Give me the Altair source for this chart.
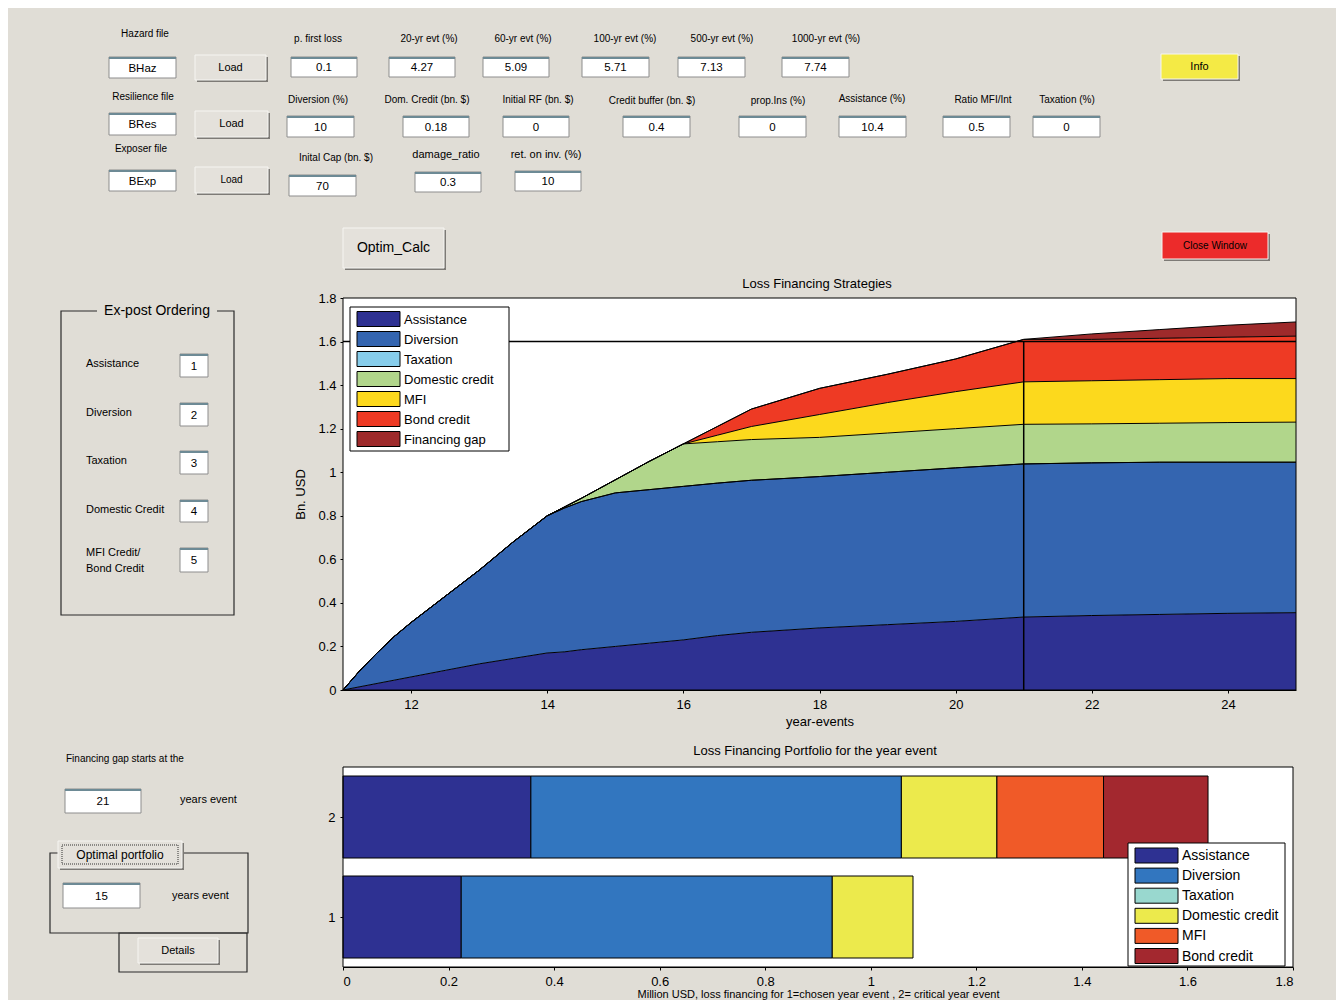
import altair as alt
import pandas as pd

# ---------------- data: Loss Financing Strategies (stacked areas, bn USD) ----------------
years = [11, 11.25, 11.5, 11.75, 12, 12.5, 13, 13.5, 14, 14.25, 14.5, 15, 15.5, 16,
         16.5, 17, 18, 19, 20, 21, 22, 23, 24, 25]
assistance = [0, 0.015, 0.03, 0.045, 0.06, 0.09, 0.12, 0.145, 0.17, 0.175, 0.185, 0.2,
              0.215, 0.23, 0.25, 0.265, 0.285, 0.3, 0.315, 0.335, 0.342, 0.347, 0.352, 0.355]
diversion = [0, 0.075, 0.14, 0.2, 0.25, 0.34, 0.43, 0.535, 0.63, 0.66, 0.68, 0.705,
             0.705, 0.705, 0.70, 0.698, 0.695, 0.70, 0.705, 0.703, 0.701, 0.699, 0.694, 0.691]
taxation = [0, 0, 0, 0, 0, 0, 0, 0, 0, 0, 0, 0, 0, 0, 0, 0, 0, 0, 0, 0, 0, 0, 0, 0]
domestic = [0, 0, 0, 0, 0, 0, 0, 0, 0, 0.005, 0.015, 0.06, 0.13, 0.195,
            0.19, 0.187, 0.18, 0.18, 0.18, 0.182, 0.179, 0.179, 0.182, 0.184]
mfi = [0, 0, 0, 0, 0, 0, 0, 0, 0, 0, 0, 0, 0, 0,
       0.03, 0.06, 0.105, 0.14, 0.17, 0.195, 0.198, 0.20, 0.202, 0.20]
bond = [0, 0, 0, 0, 0, 0, 0, 0, 0, 0, 0, 0, 0, 0,
        0.04, 0.08, 0.12, 0.13, 0.15, 0.195, 0.19, 0.19, 0.19, 0.195]
gap = [0, 0, 0, 0, 0, 0, 0, 0, 0, 0, 0, 0, 0, 0, 0, 0, 0, 0, 0, 0,
       0.025, 0.04, 0.055, 0.065]
critical_year = 21
critical_level = 1.6

area_series = ["Assistance", "Diversion", "Taxation", "Domestic credit", "MFI",
               "Bond credit", "Financing gap"]
area_colors = ["#2e3192", "#3465b0", "#87cdeb", "#b1d68b", "#fcd91d", "#ee3a24", "#9e2a2b"]
area_values = [assistance, diversion, taxation, domestic, mfi, bond, gap]

# ---------------- data: Loss Financing Portfolio (horizontal stacked bars) ----------------
bar_rows = [1, 2]
bar_assistance = [0.224, 0.356]
bar_diversion = [0.703, 0.702]
bar_taxation = [0, 0]
bar_domestic = [0.153, 0.181]
bar_mfi = [0, 0.202]
bar_bond = [0, 0.198]
bar_series = ["Assistance", "Diversion", "Taxation", "Domestic credit", "MFI", "Bond credit"]
bar_colors = ["#2e3192", "#3276bf", "#99d8cf", "#ecea4c", "#f05a28", "#a3282f"]
bar_values = [bar_assistance, bar_diversion, bar_taxation, bar_domestic, bar_mfi, bar_bond]

# ---------------- GUI widget texts ----------------
textboxes = [
    ("BHaz", 109, 57, 176, 78), ("BRes", 109, 113, 176, 135), ("BExp", 109, 170, 176, 191),
    ("0.1", 291, 57, 357, 77), ("4.27", 389, 57, 455, 77), ("5.09", 483, 57, 549, 77),
    ("5.71", 582, 57, 649, 77), ("7.13", 678, 57, 745, 77), ("7.74", 782, 57, 849, 77),
    ("10", 287, 116, 354, 137), ("0.18", 403, 116, 469, 137), ("0", 503, 116, 569, 137),
    ("0.4", 623, 116, 690, 137), ("0", 739, 116, 806, 137), ("10.4", 839, 116, 906, 137),
    ("0.5", 943, 116, 1010, 137), ("0", 1033, 116, 1100, 137),
    ("70", 289, 175, 356, 196), ("0.3", 415, 172, 481, 192), ("10", 515, 171, 581, 191),
    ("1", 180, 354, 208, 377), ("2", 180, 403, 208, 426), ("3", 180, 451, 208, 474),
    ("4", 180, 500, 208, 522), ("5", 180, 548, 208, 572),
    ("21", 65, 789, 141, 813), ("15", 63, 883, 140, 908),
]
buttons = [
    ("Load", 195, 55, 266, 80, "#e4e1db", 11), ("Load", 195, 111, 268, 137, "#e4e1db", 11),
    ("Load", 195, 167, 268, 193, "#e4e1db", 10), ("Info", 1161, 54, 1238, 79, "#f4ea45", 11),
    ("Optim_Calc", 343, 228, 444, 268, "#e4e1db", 14),
    ("Close Window", 1162, 232, 1268, 259, "#ec2b2b", 10),
    ("Optimal portfolio", 58, 841, 182, 868, "#e4e1db", 12),
    ("Details", 138, 938, 218, 963, "#e4e1db", 11),
]
labels_center = [
    ("Hazard file", 145, 34, 10), ("Resilience file", 143, 97, 10), ("Exposer file", 141, 149, 10),
    ("p. first loss", 318, 39, 10), ("20-yr evt (%)", 429, 39, 10), ("60-yr evt (%)", 523, 39, 10),
    ("100-yr evt (%)", 625, 39, 10), ("500-yr evt (%)", 722, 39, 10),
    ("1000-yr evt (%)", 826, 39, 10), ("Diversion (%)", 318, 100, 10),
    ("Dom. Credit (bn. $)", 427, 100, 10), ("Initial RF (bn. $)", 538, 100, 10),
    ("Credit buffer (bn. $)", 652, 101, 10), ("prop.Ins (%)", 778, 101, 10),
    ("Assistance (%)", 872, 99, 10), ("Ratio MFI/Int", 983, 100, 10), ("Taxation (%)", 1067, 100, 10),
    ("Inital Cap (bn. $)", 336, 158, 10), ("damage_ratio", 446, 155, 11),
    ("ret. on inv. (%)", 546, 155, 11),
    ("Ex-post Ordering", 157, 311, 14),
    ("Loss Financing Strategies", 817, 284, 13),
    ("Loss Financing Portfolio for the year event", 815, 751, 13),
]
labels_left = [
    ("Assistance", 86, 364, 11), ("Diversion", 86, 413, 11), ("Taxation", 86, 461, 11),
    ("Domestic Credit", 86, 510, 11), ("MFI Credit/", 86, 553, 11), ("Bond Credit", 86, 569, 11),
    ("Financing gap starts at the", 66, 759, 10), ("years event", 180, 800, 11),
    ("years event", 172, 896, 11),
]
group_frames = [(61, 311, 234, 615), (50, 853, 248, 933), (119, 933, 247, 972)]
title_gaps = [(97, 303, 217, 319)]
plot_boxes = [(343, 298, 1296, 690), (343, 767, 1293, 967)]
# legend boxes: (x1, y1, x2, y2, first-row centre y, row step, font size)
legend_boxes = [(350, 307, 509, 451, 319, 20, 13), (1128, 843, 1285, 966, 855.5, 20.1, 14)]

BG = "#e0ddd6"
FONT = "Liberation Sans"

# ---------------- build tables ----------------
area_rows = []
for i, (s, vals) in enumerate(zip(area_series, area_values)):
    for yr, v in zip(years, vals):
        area_rows.append({"year": yr, "series": s, "order": i, "value": v})
area_df = pd.DataFrame(area_rows)

bar_rows_tbl = []
for i, (s, vals) in enumerate(zip(bar_series, bar_values)):
    for r, v in zip(bar_rows, vals):
        bar_rows_tbl.append({"row": r, "series": s, "order": i, "value": v})
bar_df = pd.DataFrame(bar_rows_tbl)

leg_rows = []
for (series, colors), box in zip([(area_series, area_colors), (bar_series, bar_colors)], legend_boxes):
    x1, y1, x2, y2, yc0, step, fs = box
    for i, (s, c) in enumerate(zip(series, colors)):
        yc = yc0 + step * i
        leg_rows.append({"label": s, "color": c, "sx1": x1 + 7, "sx2": x1 + 50,
                         "sy1": yc - 7.5, "sy2": yc + 7.5, "tx": x1 + 54, "ty": yc + 0.5, "fs": fs})
leg_df = pd.DataFrame(leg_rows)
lb_df = pd.DataFrame([b[:4] for b in legend_boxes], columns=["x1", "y1", "x2", "y2"])

tb_df = pd.DataFrame(textboxes, columns=["text", "x1", "y1", "x2", "y2"])
bt_df = pd.DataFrame(buttons, columns=["text", "x1", "y1", "x2", "y2", "fill", "fs"])
lc_df = pd.DataFrame(labels_center, columns=["text", "x", "y", "fs"])
ll_df = pd.DataFrame(labels_left, columns=["text", "x", "y", "fs"])
gf_df = pd.DataFrame(group_frames, columns=["x1", "y1", "x2", "y2"])
tg_df = pd.DataFrame(title_gaps, columns=["x1", "y1", "x2", "y2"])
pb_df = pd.DataFrame(plot_boxes, columns=["x1", "y1", "x2", "y2"])

# ---------------- GUI (pixel) scales ----------------
px = alt.Scale(domain=[8, 1336], range=[0, 1328], nice=False, zero=False)
py = alt.Scale(domain=[8, 1000], range=[0, 992], nice=False, zero=False)


def gx(f):
    return alt.X(f, type="quantitative", scale=px, axis=None)


def gy(f):
    return alt.Y(f, type="quantitative", scale=py, axis=None)


def rect_layer(df, **mark):
    return alt.Chart(df).mark_rect(**mark).encode(
        x=gx("x1"), x2="x2:Q", y=gy("y1"), y2="y2:Q")


frames = rect_layer(gf_df, fillOpacity=0, stroke="#2a2a2a", strokeWidth=1.2)
gaps = rect_layer(tg_df, fill=BG)
btn_shadow = alt.Chart(bt_df).transform_calculate(
    sx1="datum.x1 + 2", sy1="datum.y1 + 2", sx2="datum.x2 + 2", sy2="datum.y2 + 2"
).mark_rect(fill="#7d7a76").encode(x=gx("sx1"), x2="sx2:Q", y=gy("sy1"), y2="sy2:Q")
btn = alt.Chart(bt_df).mark_rect(stroke="#f6f5f2", strokeWidth=1).encode(
    x=gx("x1"), x2="x2:Q", y=gy("y1"), y2="y2:Q", fill=alt.Fill("fill:N", scale=None))
focus = alt.Chart(bt_df).transform_filter("datum.text == 'Optimal portfolio'").transform_calculate(
    fx1="datum.x1 + 4", fy1="datum.y1 + 4", fx2="datum.x2 - 4", fy2="datum.y2 - 4"
).mark_rect(fillOpacity=0, stroke="#333", strokeDash=[1, 1], strokeWidth=1).encode(
    x=gx("fx1"), x2="fx2:Q", y=gy("fy1"), y2="fy2:Q")
btn_text = alt.Chart(bt_df).transform_calculate(
    cx="(datum.x1 + datum.x2) / 2", cy="(datum.y1 + datum.y2) / 2"
).mark_text(font=FONT, align="center", baseline="middle", color="black").encode(
    x=gx("cx"), y=gy("cy"), text="text:N", size=alt.Size("fs:Q", scale=None))
tbox = rect_layer(tb_df, fill="white", stroke="#8d8d8d", strokeWidth=1)
tbox_shade = alt.Chart(tb_df).transform_calculate(
    y1b="datum.y1 + 1").mark_rule(color="#6d8a95", strokeWidth=2).encode(
    x=gx("x1"), x2="x2:Q", y=gy("y1b"))
tbox_text = alt.Chart(tb_df).transform_calculate(
    cx="(datum.x1 + datum.x2) / 2", cy="(datum.y1 + datum.y2) / 2 + 1"
).mark_text(font=FONT, fontSize=11.5, align="center", baseline="middle", color="black").encode(
    x=gx("cx"), y=gy("cy"), text="text:N")
lab_c = alt.Chart(lc_df).mark_text(font=FONT, align="center", baseline="middle", color="black").encode(
    x=gx("x"), y=gy("y"), text="text:N", size=alt.Size("fs:Q", scale=None))
lab_l = alt.Chart(ll_df).mark_text(font=FONT, align="left", baseline="middle", color="black").encode(
    x=gx("x"), y=gy("y"), text="text:N", size=alt.Size("fs:Q", scale=None))
plot_bg = rect_layer(pb_df, fill="white")
plot_frame = rect_layer(pb_df, fillOpacity=0, stroke="black", strokeWidth=1)

# legends (drawn from the series / colour arrays)
leg_box = rect_layer(lb_df, fill="white", stroke="black", strokeWidth=1)
leg_sw = alt.Chart(leg_df).mark_rect(stroke="black", strokeWidth=1).encode(
    x=gx("sx1"), x2="sx2:Q", y=gy("sy1"), y2="sy2:Q", fill=alt.Fill("color:N", scale=None))
leg_tx = alt.Chart(leg_df).mark_text(font=FONT, align="left", baseline="middle", color="black").encode(
    x=gx("tx"), y=gy("ty"), text="label:N", size=alt.Size("fs:Q", scale=None))

# ---------------- area chart ----------------
xs_area = alt.Scale(domain=[11, 25], range=[335, 1288], nice=False, zero=False)
ys_area = alt.Scale(domain=[0, 1.8], range=[682, 290], nice=False, zero=False)
axis_common = dict(grid=False, domainColor="black", tickColor="black", labelColor="black",
                   labelFont=FONT, labelFontSize=13, titleFont=FONT,
                   titleFontWeight="normal", titleColor="black", tickSize=3)
ax_x_area = alt.Axis(orient="bottom", offset=-310, values=[12, 14, 16, 18, 20, 22, 24],
                     format="d", title="year-events", labelPadding=5, titlePadding=4,
                     titleFontSize=13, **axis_common)
ax_y_area = alt.Axis(orient="left", offset=-335,
                     values=[0, 0.2, 0.4, 0.6, 0.8, 1, 1.2, 1.4, 1.6, 1.8],
                     format="~g", title="Bn. USD", labelPadding=4, titlePadding=10,
                     titleFontSize=13, **axis_common)

X_A = alt.X("year:Q", scale=xs_area, axis=ax_x_area)
Y_A = alt.Y("v1:Q", scale=ys_area, axis=ax_y_area, stack=None)

area_base = alt.Chart(area_df).transform_stack(
    stack="value", groupby=["year"], as_=["v0", "v1"],
    sort=[alt.SortField("order", order="ascending")])

areas = area_base.mark_area(opacity=1).encode(
    x=X_A, y=Y_A, y2="v0:Q",
    color=alt.Color("series:N", scale=alt.Scale(domain=area_series, range=area_colors),
                    legend=None),
    order="order:Q")
edges = area_base.mark_line(color="black", strokeWidth=1).encode(
    x=X_A, y=Y_A, detail="series:N")
hrule = alt.Chart(pd.DataFrame({"year": [11], "year2": [25], "v1": [critical_level]})).mark_rule(
    color="black", strokeWidth=1.5).encode(x=X_A, x2="year2:Q", y=Y_A)
vrule = alt.Chart(pd.DataFrame({"year": [critical_year], "v1": [0], "v2": [critical_level]})).mark_rule(
    color="black", strokeWidth=1.5).encode(x=X_A, y=Y_A, y2="v2:Q")
area_chart = alt.layer(areas, edges, hrule, vrule)

# ---------------- bar chart ----------------
xs_bar = alt.Scale(domain=[0, 1.8], range=[335, 1285], nice=False, zero=False)
ys_bar = alt.Scale(domain=[0.5, 2.5], range=[959, 759], nice=False, zero=False)
ax_x_bar = alt.Axis(orient="bottom", offset=-33,
                    values=[0, 0.2, 0.4, 0.6, 0.8, 1, 1.2, 1.4, 1.6, 1.8], format="~g",
                    title="Million USD, loss financing for 1=chosen year event , 2= critical year event",
                    labelPadding=5, titlePadding=0, titleFontSize=11, **axis_common)
ax_y_bar = alt.Axis(orient="left", offset=-335, values=[1, 2], format="d", title=None,
                    labelPadding=5, **axis_common)
bars = alt.Chart(bar_df).transform_stack(
    stack="value", groupby=["row"], as_=["v0", "v1"],
    sort=[alt.SortField("order", order="ascending")]
).transform_filter("datum.value > 0").transform_calculate(
    ylo="datum.row - 0.41", yhi="datum.row + 0.41"
).mark_rect(stroke="black", strokeWidth=1).encode(
    x=alt.X("v0:Q", scale=xs_bar, axis=ax_x_bar), x2="v1:Q",
    y=alt.Y("ylo:Q", scale=ys_bar, axis=ax_y_bar), y2="yhi:Q",
    color=alt.Color("series:N", scale=alt.Scale(domain=bar_series, range=bar_colors),
                    legend=None))

chart = alt.layer(
    frames, gaps, btn_shadow, btn, focus, tbox, tbox_shade, plot_bg,
    area_chart, bars, plot_frame, leg_box, leg_sw, leg_tx,
    tbox_text, btn_text, lab_c, lab_l
).resolve_scale(
    x="independent", y="independent", color="independent"
).properties(
    width=1328, height=992, padding=0, background=BG,
    autosize=alt.AutoSizeParams(type="none")
).configure_view(stroke=None)

chart.save("out.html", embed_options={"renderer": "svg", "actions": False})
